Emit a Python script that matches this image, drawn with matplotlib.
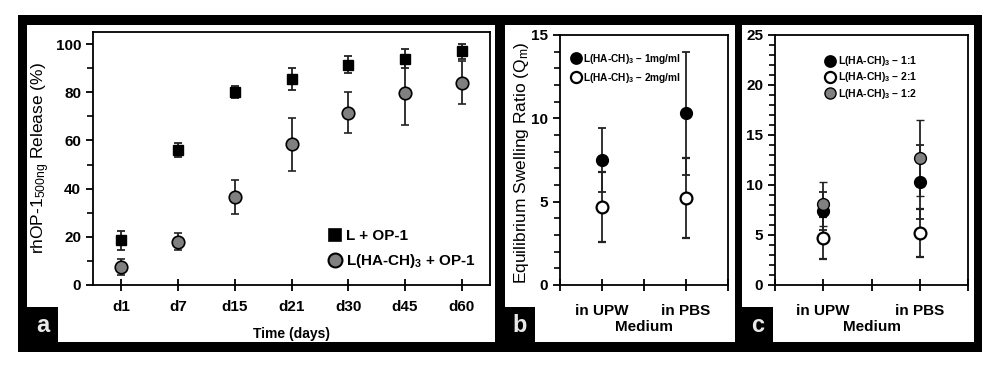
import numpy as np
import matplotlib.pyplot as plt
from matplotlib.patches import Rectangle
from matplotlib.lines import Line2D
from matplotlib.ticker import MultipleLocator, FixedLocator

plt.rcParams['font.family'] = ['Liberation Sans', 'DejaVu Sans']
plt.rcParams['mathtext.fontset'] = 'custom'
plt.rcParams['mathtext.rm'] = 'Liberation Sans'
plt.rcParams['mathtext.it'] = 'Liberation Sans'
plt.rcParams['mathtext.bf'] = 'Liberation Sans:bold'

# panel a - release
days = ["d1", "d7", "d15", "d21", "d30", "d45", "d60"]
rel_L = [18.5, 56, 80, 85.5, 91.5, 94, 97]
rel_L_err = [4, 3, 2.5, 4.5, 3.5, 4, 3]
rel_LHA = [7.5, 18, 36.5, 58.5, 71.5, 79.5, 84]
rel_LHA_err = [3.3, 3.5, 7, 11, 8.5, 13, 9]

# panel b - swelling vs concentration
media = ["in UPW", "in PBS"]
sw_1mg = [7.5, 10.3]
sw_1mg_err = [1.9, 3.7]
sw_2mg = [4.7, 5.2]
sw_2mg_err = [2.1, 2.4]

# panel c - swelling vs ratio
sw_11 = [7.4, 10.3]
sw_11_err = [1.9, 3.7]
sw_21 = [4.7, 5.2]
sw_21_err = [2.1, 2.4]
sw_12 = [8.1, 12.7]
sw_12_err = [2.2, 3.8]

W, H = 1000, 371
fig = plt.figure(figsize=(10, 3.71), dpi=100)


def px_rect(x0, y0, x1, y1, color):
    fig.add_artist(Rectangle((x0 / W, 1 - y1 / H), (x1 - x0) / W, (y1 - y0) / H,
                             transform=fig.transFigure, facecolor=color,
                             edgecolor='none', zorder=0))


# black frame with white panels
px_rect(18, 15, 982, 352, 'black')
px_rect(27, 25, 495, 342, 'white')
px_rect(505, 25, 735, 342, 'white')
px_rect(742, 25, 974, 342, 'white')
px_rect(27, 307, 58, 342, 'black')
px_rect(505, 307, 535, 342, 'black')
px_rect(742, 307, 773, 342, 'black')
for lab, x in [("a", 42.5), ("b", 520), ("c", 757.5)]:
    fig.text(x / W, 1 - 326 / H, lab, color='#e8e8e8', fontsize=17,
             fontweight='bold', ha='center', va='center')


def ax_px(l, r, t, b):
    return fig.add_axes([l / W, 1 - b / H, (r - l) / W, (b - t) / H])


def style(ax, xpad=7):
    for s in ax.spines.values():
        s.set_linewidth(1.3)
    ax.tick_params(axis='y', which='major', direction='out', length=5, width=1.3,
                   labelsize=11)
    ax.tick_params(axis='y', which='minor', direction='out', length=4, width=1.2)
    ax.tick_params(axis='x', which='both', direction='inout', length=8, width=1.3,
                   labelsize=11, pad=xpad)
    for t in ax.get_xticklabels() + ax.get_yticklabels():
        t.set_fontweight('bold')


ebkw = dict(ecolor='#222222', elinewidth=1.3, capsize=3, capthick=1.3, linestyle='none')


def handle(fc, ms, mew=1.2, marker='o'):
    return Line2D([], [], linestyle='none', marker=marker, ms=ms, mfc=fc,
                  mec='black', mew=mew)


# panel a
ax = ax_px(93, 490, 32, 285)
x = np.arange(len(days))
ax.errorbar(x, rel_L, yerr=rel_L_err, marker='s', ms=7.5, mfc='black', mec='black',
            zorder=3, **ebkw)
ax.errorbar(x, rel_LHA, yerr=rel_LHA_err, marker='o', ms=9, mfc='#808080',
            mec='black', mew=1.2, zorder=3, **ebkw)
ax.set_xlim(-0.5, len(days) - 0.5)
ax.set_ylim(0, 105)
ax.set_xticks(x)
ax.set_xticklabels(days)
ax.set_yticks([0, 20, 40, 60, 80, 100])
ax.yaxis.set_minor_locator(MultipleLocator(10))
style(ax)
ax.set_ylabel(r'rhOP-1$_{\mathrm{500ng}}$ Release (%)', fontsize=12.5)
ax.yaxis.set_label_coords(-0.103, 0.5)
ax.set_xlabel('Time (days)', fontsize=10, fontweight='bold', labelpad=9)
ax.legend([handle('black', 9, marker='s'), handle('#808080', 10, 1.5)],
          ['L + OP-1', r'L(HA-CH)$_{\mathbf{3}}$ + OP-1'],
          loc='upper left', bbox_to_anchor=(0.575, 0.245), frameon=False,
          handletextpad=0.25, labelspacing=0.6, handlelength=1.0, borderaxespad=0,
          prop={'weight': 'bold', 'size': 11})

# panel b
xm = np.arange(len(media))
ax = ax_px(560, 728, 35, 285)
ax.errorbar(xm, sw_1mg, yerr=sw_1mg_err, marker='o', ms=8.5, mfc='black', mec='black',
            zorder=3, **ebkw)
ax.errorbar(xm, sw_2mg, yerr=sw_2mg_err, marker='o', ms=8.5, mfc='white', mec='black',
            mew=1.6, zorder=3, **ebkw)
ax.set_xlim(-0.5, 1.5)
ax.set_ylim(0, 15)
ax.set_xticks(xm)
ax.set_xticklabels(media)
ax.xaxis.set_minor_locator(FixedLocator([-0.5, 0.5, 1.5]))
ax.set_yticks([0, 5, 10, 15])
ax.yaxis.set_minor_locator(MultipleLocator(1))
style(ax, xpad=10)
ax.set_ylabel(r'Equilibrium Swelling Ratio (Q$_{\mathrm{m}}$)', fontsize=12.5)
ax.yaxis.set_label_coords(-0.172, 0.49)
ax.set_xlabel('Medium', fontsize=11, fontweight='bold', labelpad=1)
ax.legend([handle('black', 8), handle('white', 8, 1.6)],
          [r'L(HA-CH)$_{\mathbf{3}}$ – 1mg/ml', r'L(HA-CH)$_{\mathbf{3}}$ – 2mg/ml'],
          loc='upper left', bbox_to_anchor=(0.03, 0.95), frameon=False,
          handletextpad=0.1, labelspacing=0.5, handlelength=1.3, borderaxespad=0,
          prop={'weight': 'bold', 'size': 7.3})

# panel c
ax = ax_px(775, 968, 35, 285)
ax.errorbar(xm, sw_11, yerr=sw_11_err, marker='o', ms=8.5, mfc='black', mec='black',
            zorder=3, **ebkw)
ax.errorbar(xm, sw_21, yerr=sw_21_err, marker='o', ms=8.5, mfc='white', mec='black',
            mew=1.6, zorder=3, **ebkw)
ax.errorbar(xm, sw_12, yerr=sw_12_err, marker='o', ms=8.5, mfc='#808080', mec='black',
            mew=1.0, zorder=3, **ebkw)
ax.set_xlim(-0.5, 1.5)
ax.set_ylim(0, 25)
ax.set_xticks(xm)
ax.set_xticklabels(media)
ax.xaxis.set_minor_locator(FixedLocator([-0.5, 0.5, 1.5]))
ax.set_yticks([0, 5, 10, 15, 20, 25])
ax.yaxis.set_minor_locator(MultipleLocator(1))
style(ax, xpad=10)
ax.set_xlabel('Medium', fontsize=11, fontweight='bold', labelpad=1)
ax.legend([handle('black', 8), handle('white', 8, 1.6), handle('#808080', 8, 1.0)],
          [r'L(HA-CH)$_{\mathbf{3}}$ – 1:1', r'L(HA-CH)$_{\mathbf{3}}$ – 2:1',
           r'L(HA-CH)$_{\mathbf{3}}$ – 1:2'],
          loc='upper left', bbox_to_anchor=(0.23, 0.94), frameon=False,
          handletextpad=0.1, labelspacing=0.22, handlelength=1.3, borderaxespad=0,
          prop={'weight': 'bold', 'size': 7.5})

fig.savefig('out.png', dpi=100)
